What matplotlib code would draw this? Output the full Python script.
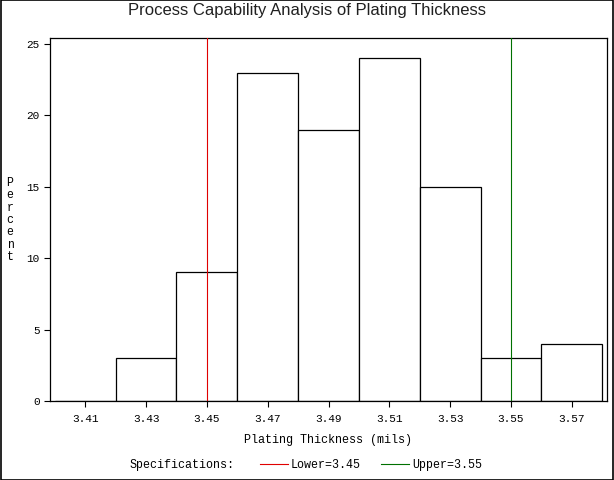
import numpy as np
import matplotlib.pyplot as plt
from matplotlib.lines import Line2D
from matplotlib.patches import Rectangle

# histogram midpoints (mils) and percent per bin
midpoints = [3.41, 3.43, 3.45, 3.47, 3.49, 3.51, 3.53, 3.55, 3.57]
percent = [0, 3, 9, 23, 19, 24, 15, 3, 4]
bin_width = 0.02

lower_spec = 3.45
upper_spec = 3.55

yticks = [0, 5, 10, 15, 20, 25]

mono = "Liberation Mono"
sans = "Liberation Sans"

fig = plt.figure(figsize=(6.14, 4.8), dpi=100)
ax = fig.add_axes([50 / 614, 1 - 401 / 480, 557 / 614, 363 / 480])

ax.bar(midpoints, percent, width=bin_width, facecolor="white",
       edgecolor="black", linewidth=0.9, zorder=2)

ax.axvline(lower_spec, color="#e00000", linewidth=0.8, zorder=3)
ax.axvline(upper_spec, color="#007000", linewidth=0.8, zorder=3)

ax.set_xlim(3.3984, 3.5816)
ax.set_ylim(0, 25.42)
ax.set_xticks(midpoints)
ax.set_xticklabels([f"{m:.2f}" for m in midpoints], fontfamily=mono, fontsize=8)
ax.set_yticks(yticks)
ax.set_yticklabels([str(t) for t in yticks], fontfamily=mono, fontsize=8)

ax.tick_params(axis="x", direction="out", length=4.5, width=0.8, pad=5)
ax.tick_params(axis="y", direction="out", length=4.5, width=0.8, pad=3)
for s in ax.spines.values():
    s.set_linewidth(0.9)

ax.set_xlabel("Plating Thickness (mils)", fontfamily=mono, fontsize=8.5, labelpad=7)

fig.text(10 / 614, 1 - 220 / 480, "\n".join("Percent"), fontfamily=mono,
         fontsize=8.3, ha="center", va="center", linespacing=1.03)

fig.text(0.5, 1 - 10.5 / 480, "Process Capability Analysis of Plating Thickness",
         fontfamily=sans, fontsize=12, ha="center", va="center", color="#202020")

# specification legend
fig.text(130 / 614, 1 - 465 / 480, "Specifications:", fontfamily=mono,
         fontsize=8.4, ha="left", va="center")
handles = [Line2D([], [], color="#e00000", linewidth=0.8),
           Line2D([], [], color="#007000", linewidth=0.8)]
labels = [f"Lower={lower_spec:.2f}", f"Upper={upper_spec:.2f}"]
fig.legend(handles, labels, ncol=2, frameon=False, loc="center left",
           bbox_to_anchor=(249 / 614, 1 - 465 / 480), handlelength=2.4,
           handletextpad=0.25, columnspacing=1.8,
           prop={"family": mono, "size": 8.4})

fig.patches.append(Rectangle((0.001, 0.001), 0.998, 0.998, transform=fig.transFigure,
                             fill=False, edgecolor="black", linewidth=1.2))

fig.savefig("out.png", dpi=100)
